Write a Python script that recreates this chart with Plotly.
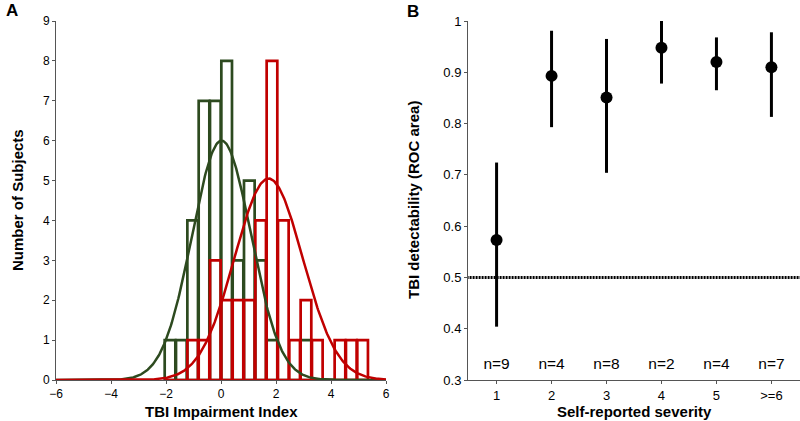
import numpy as np
import plotly.graph_objects as go

# ---------------- Panel A data ----------------
bin_centers = [-1.854, -1.442, -1.030, -0.618, -0.206, 0.206, 0.618, 1.030, 1.442,
               1.854, 2.266, 2.678, 3.090, 3.502, 3.914, 4.326, 4.738, 5.150]
bin_width = 0.412
green_counts = [1, 1, 4, 7, 7, 8, 3, 5, 3, 1, 0, 0, 1, 0, 0, 0, 0, 0]
red_counts = [0, 0, 1, 1, 3, 2, 2, 2, 4, 8, 4, 1, 2, 1, 0, 1, 1, 1]
# fitted normal curves (mean, sd, peak height)
green_fit = (0.02, 1.07, 6.0)
red_fit = (1.73, 1.24, 5.05)

# ---------------- Panel B data ----------------
severity_labels = ["1", "2", "3", "4", "5", ">=6"]
roc_area = [0.573, 0.893, 0.851, 0.948, 0.920, 0.910]
roc_upper = [0.724, 0.981, 0.965, 1.000, 0.968, 0.978]
roc_lower = [0.404, 0.793, 0.704, 0.878, 0.865, 0.813]
n_labels = ["n=9", "n=4", "n=8", "n=2", "n=4", "n=7"]
chance_level = 0.5

GREEN = "#2d4a1f"
RED = "#c00000"
FONT = "Arial, Liberation Sans, sans-serif"

fig = go.Figure()

# histogram bars (outlines only)
fig.add_trace(go.Bar(x=bin_centers, y=green_counts, width=bin_width * 0.94,
                     marker=dict(color="rgba(0,0,0,0)", line=dict(color=GREEN, width=2.7)),
                     xaxis="x", yaxis="y", showlegend=False))
fig.add_trace(go.Bar(x=bin_centers, y=red_counts, width=bin_width * 0.94,
                     marker=dict(color="rgba(0,0,0,0)", line=dict(color=RED, width=2.7)),
                     xaxis="x", yaxis="y", showlegend=False))

xs = np.linspace(-6, 6, 400)
for (m, s, p), col in [(green_fit, GREEN), (red_fit, RED)]:
    ys = p * np.exp(-(xs - m) ** 2 / (2 * s ** 2))
    fig.add_trace(go.Scatter(x=xs, y=ys, mode="lines", line=dict(color=col, width=2.5),
                             xaxis="x", yaxis="y", showlegend=False, hoverinfo="skip"))

# Panel B
cat_pos = list(range(1, len(severity_labels) + 1))
fig.add_trace(go.Scatter(x=[cat_pos[0] - 0.6, cat_pos[-1] + 0.6], y=[chance_level, chance_level],
                         mode="lines", line=dict(color="black", width=3, dash="2px,1px"),
                         xaxis="x2", yaxis="y2", showlegend=False, hoverinfo="skip"))
fig.add_trace(go.Scatter(
    x=cat_pos, y=roc_area, mode="markers",
    marker=dict(color="black", size=12),
    error_y=dict(type="data", symmetric=False,
                 array=[u - v for u, v in zip(roc_upper, roc_area)],
                 arrayminus=[v - l for v, l in zip(roc_area, roc_lower)],
                 color="black", thickness=3, width=0),
    xaxis="x2", yaxis="y2", showlegend=False))
fig.add_trace(go.Scatter(x=cat_pos, y=[0.329] * len(cat_pos), mode="text", text=n_labels,
                         textfont=dict(family=FONT, size=15.5, color="black"),
                         xaxis="x2", yaxis="y2", showlegend=False, hoverinfo="skip"))

W, H = 800, 421
yb, yt = 1 - 380 / H, 1 - 21 / H
axis_common = dict(showline=True, linecolor="#555555", linewidth=1, ticks="outside",
                   tickcolor="#555555", ticklen=3, showgrid=False, zeroline=False,
                   automargin=False)
fontA = dict(family=FONT, size=12, color="black")
fontB = dict(family=FONT, size=13, color="black")

fig.update_layout(
    width=W, height=H, margin=dict(l=0, r=0, t=0, b=0, pad=0),
    paper_bgcolor="white", plot_bgcolor="white", barmode="overlay",
    font=dict(family=FONT, color="black"),
    xaxis=dict(domain=[56 / W, 386 / W], range=[-6, 6], tickvals=[-6, -4, -2, 0, 2, 4, 6],
               anchor="y", tickfont=fontA, **axis_common),
    yaxis=dict(domain=[yb, yt], range=[0, 9], tickvals=list(range(10)), anchor="x",
               tickfont=fontA, **axis_common),
    xaxis2=dict(domain=[468 / W, 1.0], range=[0.48, 6.52], tickvals=cat_pos,
                ticktext=severity_labels, anchor="y2", tickfont=fontB, **axis_common),
    yaxis2=dict(domain=[yb, yt], range=[0.3, 1.0], tickvals=[0.3, 0.4, 0.5, 0.6, 0.7, 0.8, 0.9, 1.0],
                ticktext=["0.3", "0.4", "0.5", "0.6", "0.7", "0.8", "0.9", "1"],
                anchor="x2", tickfont=fontB, **axis_common),
)

def ann(text, x, y, size=15, angle=0, xanchor="center", yanchor="middle"):
    fig.add_annotation(text=text, x=x / W, y=1 - y / H, xref="paper", yref="paper",
                       showarrow=False, textangle=angle, xanchor=xanchor, yanchor=yanchor,
                       font=dict(family=FONT, size=size, color="black"))

ann("<b>A</b>", 12, 11, size=17)
ann("<b>B</b>", 413, 12, size=17)
ann("<b>Number of Subjects</b>", 17, 200, angle=-90)
ann("<b>TBI Impairment Index</b>", 221, 411)
ann("<b>TBI detectability (ROC area)</b>", 413, 200, angle=-90)
ann("<b>Self-reported severity</b>", 634, 411)

fig.write_html("out.html", config={"displayModeBar": False},
               post_script="document.body.style.margin='0';document.body.style.overflow='hidden';")
